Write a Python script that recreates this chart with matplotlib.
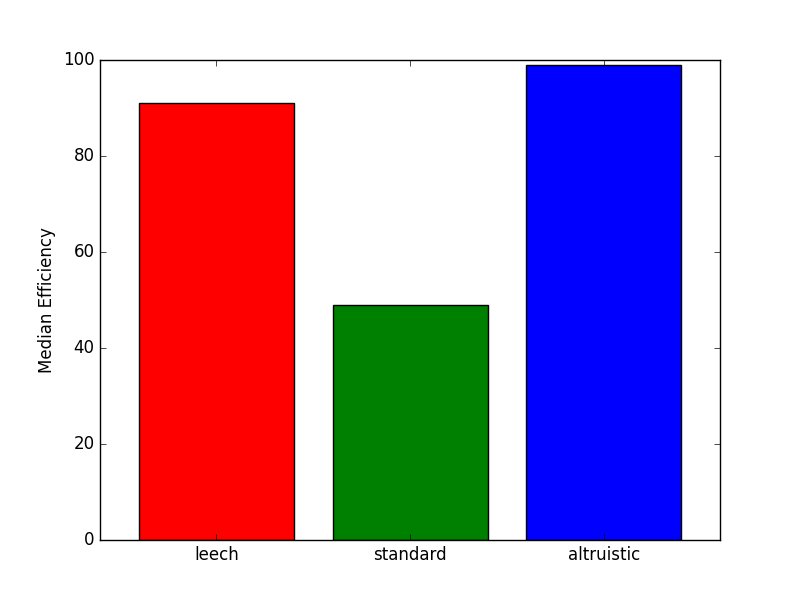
import matplotlib
matplotlib.use("Agg")
import matplotlib.pyplot as plt
import numpy as np

plt.style.use('classic')

categories = ['leech', 'standard', 'altruistic']
values = [91, 49, 99]
colors = ['r', 'g', 'b']

fig, ax = plt.subplots(figsize=(8, 6), dpi=100)
fig.patch.set_facecolor('white')
x = np.arange(len(categories))
ax.bar(x, values, width=0.8, align='center', color=colors, edgecolor='black')
ax.set_xticks(x)
ax.set_xticklabels(categories)
ax.set_xlim(-0.6, 2.6)
ax.set_ylim(0, 100)
ax.set_yticks(np.arange(0, 101, 20))
ax.set_ylabel("Median Efficiency")

fig.savefig("out.png", dpi=100, facecolor='white')
